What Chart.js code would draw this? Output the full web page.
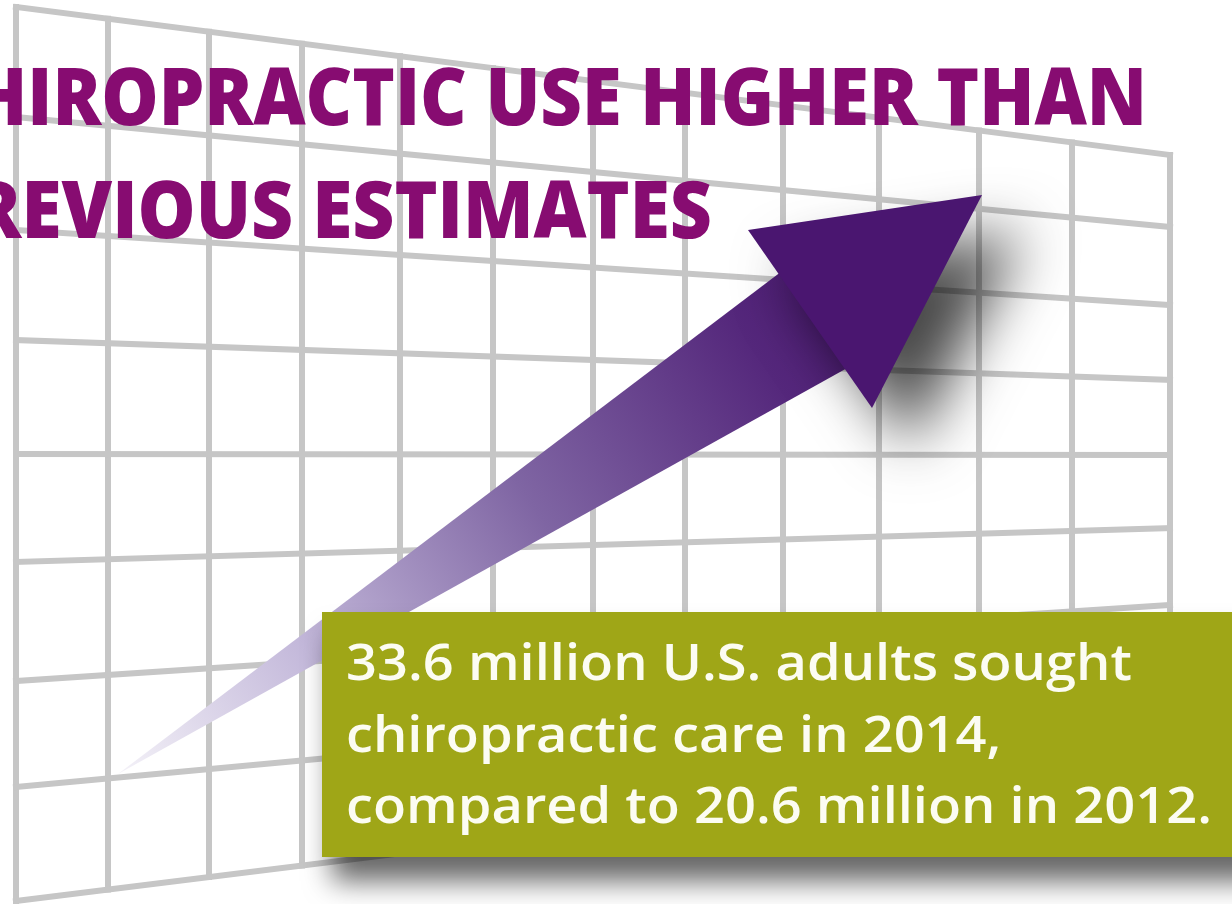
<!DOCTYPE html>
<html>
<head>
<meta charset="utf-8">
<title>Chiropractic use higher than previous estimates</title>
<script src="https://cdn.jsdelivr.net/npm/chart.js@4.4.1/dist/chart.umd.min.js"></script>
<style>
  html, body { margin: 0; padding: 0; background: #fff; overflow: hidden; }
  #wrap { width: 1232px; height: 904px; }
</style>
</head>
<body>
<div id="wrap"><canvas id="chiro-chart" width="1232" height="904"></canvas></div>
<script>
// backdrop "graph paper", seen in perspective (x of the columns, y of each row at the left and right edge)
var gridColumns = [16, 108, 209, 302, 400, 493, 593, 685, 783, 879, 979, 1072, 1170];
var gridRowsLeft = [7, 117, 230, 340, 454, 562, 681, 787, 901];
var gridRowsRight = [155, 227, 305, 380, 455, 528, 605, 680, 758];

// rising arrow: shaft and head outlines
var arrowShaft = [[118, 774], [790, 265], [858, 362]];
var arrowHead = [[748, 230], [982, 195], [872, 408]];

// callout box outline
var calloutBox = [[322, 612], [1262, 612], [1262, 857], [322, 857]];

var titleLines = ['HIROPRACTIC USE HIGHER THAN', 'REVIOUS ESTIMATES'];
var calloutLines = ['33.6 million U.S. adults sought', 'chiropractic care in 2014,', 'compared to 20.6 million in 2012.'];

// where the text goes, in the same units as the scales
var textLayout = {
	titleLeft: -28, titleRight: [1147, 712], titleBase: [125, 238],
	calloutLeft: 346, calloutRight: 1212, calloutBase: [680, 752, 823]
};

function toPoints(list) {
	return list.map(function (p) { return { x: p[0], y: p[1] }; });
}

function rowY(row, x) {
	var x0 = gridColumns[0], x1 = gridColumns[gridColumns.length - 1];
	return gridRowsLeft[row] + (gridRowsRight[row] - gridRowsLeft[row]) * (x - x0) / (x1 - x0);
}

var datasets = [];

// grid rows
for (var i = 0; i < gridRowsLeft.length; i++) {
	datasets.push({
		data: [{ x: gridColumns[0], y: gridRowsLeft[i] }, { x: gridColumns[gridColumns.length - 1], y: gridRowsRight[i] }],
		borderColor: '#c6c6c6', borderWidth: 6, borderCapStyle: 'square', order: 10
	});
}
// grid columns
for (var j = 0; j < gridColumns.length; j++) {
	datasets.push({
		data: [{ x: gridColumns[j], y: rowY(0, gridColumns[j]) }, { x: gridColumns[j], y: rowY(gridRowsLeft.length - 1, gridColumns[j]) }],
		borderColor: '#c6c6c6', borderWidth: 6, borderCapStyle: 'square', order: 10
	});
}

// arrow shaft with a light-to-dark gradient
datasets.push({
	data: toPoints(arrowShaft),
	fill: 'shape', borderWidth: 0, order: 4,
	backgroundColor: function (c) {
		var chart = c.chart;
		if (!chart.chartArea) return '#7a5c9c';
		var xs = chart.scales.x, ys = chart.scales.y;
		var g = chart.ctx.createLinearGradient(
			xs.getPixelForValue(arrowShaft[0][0]), ys.getPixelForValue(arrowShaft[0][1]),
			xs.getPixelForValue(arrowShaft[2][0]), ys.getPixelForValue(arrowShaft[1][1]));
		g.addColorStop(0, '#f4f2f8');
		g.addColorStop(0.25, '#c3b8da');
		g.addColorStop(0.55, '#7f65a3');
		g.addColorStop(0.85, '#55287c');
		g.addColorStop(1, '#4a1670');
		return g;
	}
});

// arrow head
datasets.push({
	data: toPoints(arrowHead),
	fill: 'shape', borderWidth: 0, order: 3,
	backgroundColor: '#4a1670',
	shadow: { color: 'rgba(0,0,0,0.72)', blur: 60, dx: 40, dy: 38 }
});

// green callout box
datasets.push({
	data: toPoints(calloutBox),
	fill: 'shape', borderWidth: 0, order: 1,
	backgroundColor: '#9fa617',
	shadow: { color: 'rgba(0,0,0,0.6)', blur: 28, dx: 10, dy: 24 }
});

var shadowPlugin = {
	id: 'markShadow',
	beforeDatasetDraw: function (chart, args) {
		var s = chart.data.datasets[args.index].shadow;
		if (!s) return;
		var ctx = chart.ctx;
		ctx.save();
		ctx.shadowColor = s.color;
		ctx.shadowBlur = s.blur;
		ctx.shadowOffsetX = s.dx;
		ctx.shadowOffsetY = s.dy;
	},
	afterDatasetDraw: function (chart, args) {
		if (chart.data.datasets[args.index].shadow) chart.ctx.restore();
	}
};

var textPlugin = {
	id: 'infoText',
	afterDatasetsDraw: function (chart) {
		var ctx = chart.ctx, xs = chart.scales.x, ys = chart.scales.y;
		ctx.save();
		ctx.textBaseline = 'alphabetic';
		ctx.textAlign = 'left';

		// headline, each line squeezed to its width in the picture
		ctx.fillStyle = '#870c71';
		ctx.font = '800 80px "Open Sans"';
		var left = xs.getPixelForValue(textLayout.titleLeft);
		titleLines.forEach(function (t, k) {
			var sx = (xs.getPixelForValue(textLayout.titleRight[k]) - left) / ctx.measureText(t).width;
			ctx.save();
			ctx.translate(left, ys.getPixelForValue(textLayout.titleBase[k]));
			ctx.scale(sx, 1);
			ctx.fillText(t, 0, 0);
			ctx.restore();
		});

		// callout
		ctx.fillStyle = '#fcfcf2';
		ctx.font = '600 51px "Open Sans"';
		left = xs.getPixelForValue(textLayout.calloutLeft);
		var cx = (xs.getPixelForValue(textLayout.calloutRight) - left) / ctx.measureText(calloutLines[2]).width;
		calloutLines.forEach(function (t, k) {
			ctx.save();
			ctx.translate(left, ys.getPixelForValue(textLayout.calloutBase[k]));
			ctx.scale(cx, 1);
			ctx.fillText(t, 0, 0);
			ctx.restore();
		});
		ctx.restore();
	}
};

// the shadow plugin has to run before the filler so the filled shapes get their shadow
if (Chart.Filler) {
	Chart.unregister(Chart.Filler);
	Chart.register(shadowPlugin, Chart.Filler);
} else {
	Chart.register(shadowPlugin);
}

new Chart(document.getElementById('chiro-chart'), {
	type: 'line',
	data: { datasets: datasets },
	options: {
		responsive: false,
		animation: false,
		layout: { padding: 0 },
		elements: { point: { radius: 0, hoverRadius: 0 }, line: { tension: 0 } },
		plugins: { legend: { display: false }, tooltip: { enabled: false } },
		scales: {
			x: { type: 'linear', min: 0, max: 1232, display: false },
			y: { type: 'linear', min: 0, max: 904, reverse: true, display: false }
		}
	},
	plugins: [textPlugin]
});
</script>
</body>
</html>
